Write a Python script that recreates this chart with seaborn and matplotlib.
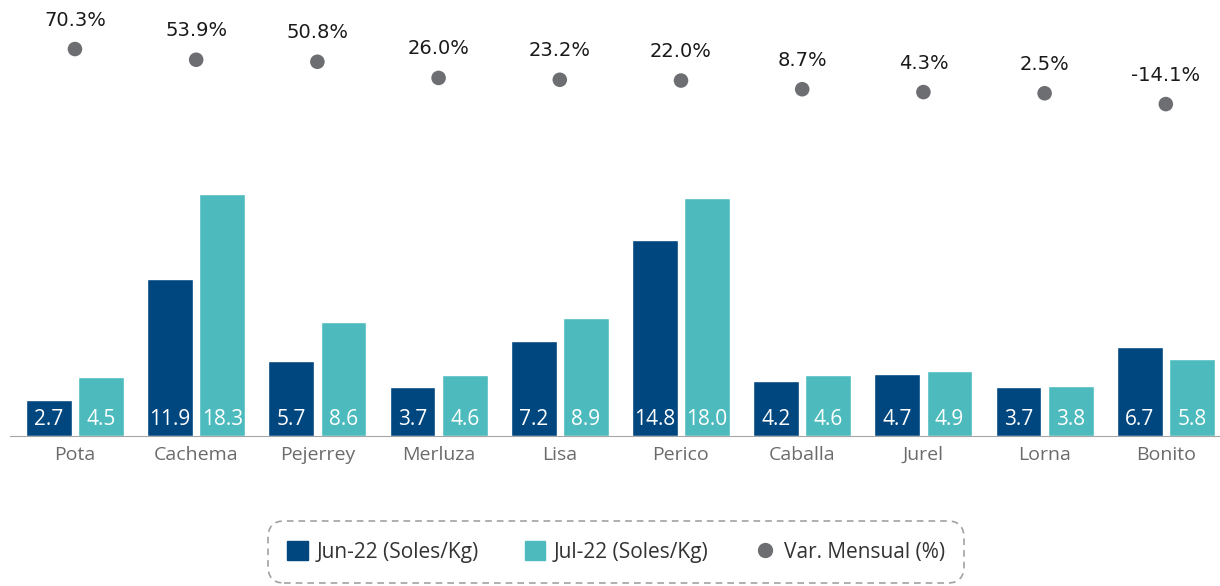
import pandas as pd
import seaborn as sns
import matplotlib.pyplot as plt
from matplotlib.patches import Patch
from matplotlib.lines import Line2D

especies = ["Pota", "Cachema", "Pejerrey", "Merluza", "Lisa", "Perico",
            "Caballa", "Jurel", "Lorna", "Bonito"]
jun22 = [2.7, 11.9, 5.7, 3.7, 7.2, 14.8, 4.2, 4.7, 3.7, 6.7]
jul22 = [4.5, 18.3, 8.6, 4.6, 8.9, 18.0, 4.6, 4.9, 3.8, 5.8]
var_mensual = [70.3, 53.9, 50.8, 26.0, 23.2, 22.0, 8.7, 4.3, 2.5, -14.1]

serie_names = ["Jun-22 (Soles/Kg)", "Jul-22 (Soles/Kg)"]
colores = ["#00467f", "#4dbbbd"]
gris = "#6d6e71"

df = pd.DataFrame({
    "Especie": especies * 2,
    "Serie": [serie_names[0]] * len(especies) + [serie_names[1]] * len(especies),
    "Precio": jun22 + jul22,
})

sns.set_style("white")
plt.rcParams['font.family'] = ['Open Sans', 'DejaVu Sans']

fig = plt.figure(figsize=(12.2, 5.86), dpi=100)
ax = fig.add_axes([10 / 1220, 150 / 586, 1210 / 1220, 436 / 586])

sns.barplot(data=df, x="Especie", y="Precio", hue="Serie", palette=colores,
            width=0.86, gap=0.12, ax=ax, legend=False, saturation=1)

for cont in ax.containers:
    for bar, v in zip(cont, cont.datavalues):
        ax.annotate(f"{v:.1f}", (bar.get_x() + bar.get_width() / 2, 0),
                    xytext=(0, 8), textcoords="offset points",
                    ha="center", va="baseline", color="white", fontsize=15)

ax.set_xlim(-0.536, 9.447)
ax.set_ylim(0, 33)
ax.set_xlabel("")
ax.set_ylabel("")
ax.set_yticks([])
for s in ["top", "left", "right"]:
    ax.spines[s].set_visible(False)
ax.spines["bottom"].set_color("#a6a6a6")
ax.tick_params(axis="x", length=0, pad=7, labelsize=14, labelcolor="#6b6b6b")

# secondary axis for the monthly variation
ax2 = ax.twinx()
sns.scatterplot(x=list(range(len(especies))), y=var_mensual, ax=ax2,
                color=gris, s=110, edgecolor="none", legend=False)
for i, v in enumerate(var_mensual):
    ax2.annotate(f"{v:.1f}%", (i, v), xytext=(0, 14), textcoords="offset points",
                 ha="center", va="bottom", fontsize=14, color="#1a1a1a",
                 family="DejaVu Sans")
ax2.set_ylim(-523, 145.5)
ax2.set_yticks([])
ax2.axis("off")

handles = [Patch(color=colores[0], label=serie_names[0]),
           Patch(color=colores[1], label=serie_names[1]),
           Line2D([], [], marker="o", linestyle="none", color=gris,
                  markersize=10, label="Var. Mensual (%)")]
leg = fig.legend(handles=handles, loc="center", bbox_to_anchor=(616 / 1220, 1 - 552 / 586),
                 ncol=3, frameon=True, fontsize=15, columnspacing=2.2,
                 handlelength=1.0, handleheight=1.0, handletextpad=0.4,
                 borderpad=0.95, borderaxespad=0, fancybox=True)
fr = leg.get_frame()
fr.set_boxstyle("round", pad=0, rounding_size=0.8)
fr.set_linestyle((0, (4, 3)))
fr.set_edgecolor("#8a8a8a")
fr.set_linewidth(1.2)
for t in leg.get_texts():
    t.set_color("#333333")

fig.savefig("out.png", dpi=100)
